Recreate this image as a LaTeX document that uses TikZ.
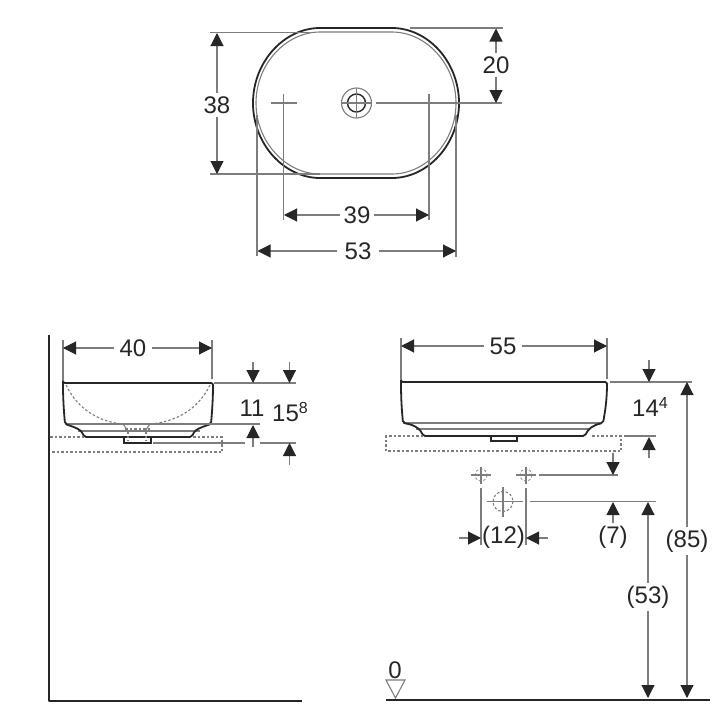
\documentclass[tikz,border=0pt]{standalone}
\usepackage{fontspec}
\setmainfont{Liberation Sans}
\usetikzlibrary{arrows.meta}
\definecolor{dimgray}{HTML}{7D7D7D}
\definecolor{inkdark}{HTML}{262626}
\tikzset{
  outline/.style={draw=inkdark,line width=1.8pt,line join=round},
  thinline/.style={draw=dimgray,line width=1.1pt},
  hidden/.style={draw=dimgray,line width=1.1pt,dash pattern=on 2.5pt off 2pt},
  dimarrow/.style={thinline,-{Triangle[length=13pt,width=13pt,color=inkdark]}},
  dimlabel/.style={text=inkdark,font=\fontsize{24}{26}\selectfont,inner sep=3pt}
}
\begin{document}
\begin{tikzpicture}[x=1pt,y=-1pt]
\useasboundingbox (0,0) rectangle (720,720);
% plan view
\draw[outline] (320,28) -- (392,28) .. controls (428,28) and (459,62) .. (459,103)
  .. controls (459,144) and (428,178) .. (392,178) -- (320,178)
  .. controls (284,178) and (253,144) .. (253,103) .. controls (253,62) and (284,28) .. (320,28);
\draw[thinline] (320,32) -- (392,32) .. controls (426,32) and (456,64) .. (456,103)
  .. controls (456,142) and (426,174) .. (392,174) -- (320,174)
  .. controls (286,174) and (256,142) .. (256,103) .. controls (256,64) and (286,32) .. (320,32);
\draw[thinline] (356.5,103) circle (15);
\draw[draw=inkdark,line width=1.4pt] (356.5,103) circle (9);
\draw[thinline] (356.5,88) -- (356.5,118) (341.5,103) -- (371.5,103);
\foreach \x in {283.5,429}
\draw[thinline] (\x,94) -- (\x,220);
\draw[thinline] (271,103) -- (297,103);
\draw[thinline] (376,103) -- (502,103);
\draw[thinline] (410,28) -- (503,28);
\draw[thinline] (210,32.5) -- (310,32.5);
\draw[thinline] (210,174) -- (320,174);
\draw[thinline] (257,115) -- (257,256);
\draw[thinline] (456,115) -- (456,257);
\node[dimlabel] (lab38) at (217,105) {38};
\draw[dimarrow] (lab38) -- (217,33);
\draw[dimarrow] (lab38) -- (217,174);
\node[dimlabel] (lab20) at (496,65) {20};
\draw[dimarrow] (lab20) -- (496,28.5);
\draw[dimarrow] (lab20) -- (496,103);
\node[dimlabel] (lab39) at (357,215) {39};
\draw[dimarrow] (lab39) -- (284,215);
\draw[dimarrow] (lab39) -- (429,215);
\node[dimlabel,inner sep=7pt] (lab53) at (358,251) {53};
\draw[dimarrow] (lab53) -- (257.5,251);
\draw[dimarrow] (lab53) -- (456,251);
% side view, wall
\draw[outline] (49,335) -- (49,701) -- (302,701);
\draw[thinline] (65,424) -- (211,424);
\draw[thinline] (78,431) -- (200,431);
\draw[outline,rounded corners=2pt] (63,383) -- (213,383) .. controls (213,400) and (212,412) .. (211,424)
  -- (205,426) .. controls (197,429) and (194,431) .. (192,437) -- (84,437)
  .. controls (82,431) and (79,429) .. (71,426) -- (65,424)
  .. controls (64,412) and (63,400) .. (63,383) -- cycle;
\draw[hidden] (66,385) .. controls (78,410) and (100,422) .. (123,424);
\draw[hidden] (210,385) .. controls (198,410) and (175,422) .. (150,424);
\draw[thinline] (123,424) -- (128,431);
\draw[thinline] (150,424) -- (145,431);
\draw[hidden] (125,429) -- (150,429);
\foreach \x in {128,146}
\draw[hidden] (\x,431) -- (\x,441);
\draw[draw=inkdark,line width=1.3pt] (124,437) -- (124,443) -- (151,443) -- (151,437);
\draw[hidden] (50,437) -- (84,437);
\draw[hidden] (193,437) -- (222,437) -- (222,452) -- (52,452);
\draw[thinline] (63,340) -- (63,380);
\draw[thinline] (212,340) -- (212,379);
\draw[thinline] (214,383) -- (296,383);
\draw[thinline] (162,424) -- (260,424);
\draw[thinline] (153,443) -- (245,443);
\draw[thinline] (260,443) -- (296,443);
\node[dimlabel,inner sep=5pt] (lab40) at (133,348) {40};
\draw[dimarrow] (lab40) -- (63,348);
\draw[dimarrow] (lab40) -- (212,348);
\foreach \x in {253,289.5}
\draw[dimarrow] (\x,362) -- (\x,383);
\draw[dimarrow] (253,447) -- (253,425);
\draw[dimarrow] (289.5,465) -- (289.5,443);
\node[dimlabel] (lab11) at (252,408) {11};
\node[dimlabel] (lab15) at (290,412) {15\raisebox{8pt}{\fontsize{16}{17}\selectfont 8}};
% front view
\draw[thinline] (403,423) -- (602,423);
\draw[thinline] (416,429) -- (590,429);
\draw[outline,rounded corners=2pt] (401,382) -- (607,382) .. controls (607,400) and (605,412) .. (603,423)
  .. controls (593,425) and (588,429) .. (585,436) -- (423,436)
  .. controls (421,430) and (416,425) .. (403,423)
  .. controls (402,412) and (401,400) .. (401,382) -- cycle;
\draw[draw=inkdark,line width=1.3pt] (491,436) -- (491,441) -- (517,441) -- (517,436);
\draw[hidden] (423,436) -- (386,436) -- (386,451) -- (621,451) -- (621,436) -- (590,436);
\draw[thinline] (401,338) -- (401,379);
\draw[thinline] (607,338) -- (607,379);
\draw[thinline] (610,382) -- (692,382);
\draw[thinline] (624,436) -- (656,436);
\draw[thinline] (539,475) -- (618,475);
\draw[thinline] (530,501.5) -- (656,501.5);
\node[dimlabel,inner sep=5pt] (lab55) at (503,346) {55};
\draw[dimarrow] (lab55) -- (401,346);
\draw[dimarrow] (lab55) -- (607,346);
\draw[dimarrow] (649,360) -- (649,382);
\draw[dimarrow] (649,458) -- (649,437);
\node[dimlabel] (lab14) at (650,407) {14\raisebox{8pt}{\fontsize{16}{17}\selectfont 4}};
\draw[dimarrow] (613,453) -- (613,475);
\draw[dimarrow] (613,523) -- (613,502);
\node[dimlabel] (lab7) at (613,537) {(7)};
\node[dimlabel] (lab53b) at (648,597) {(53)};
\draw[dimarrow] (lab53b) -- (648,502);
\draw[dimarrow] (lab53b) -- (648,698);
\node[dimlabel] (lab85) at (687,541) {(85)};
\draw[dimarrow] (lab85) -- (687,382);
\draw[dimarrow] (lab85) -- (687,698);
% connection points
\foreach \x in {481,526} {
\draw[thinline] (\x-10,475) -- (\x+10,475);
\draw[thinline] (\x,467) -- (\x,484);
\draw[hidden,line width=0.7pt] (\x,475) circle (6);
\draw[thinline] (\x,488) -- (\x,545);
}
\draw[thinline] (487,501.5) -- (523,501.5);
\draw[thinline] (503,487) -- (503,517);
\draw[hidden] (503,501.5) circle (10);
\node[dimlabel,inner sep=0pt] (lab12) at (503.5,537) {(12)};
\draw[dimarrow] (459,538) -- (481,538);
\draw[dimarrow] (548,538) -- (526,538);
% floor
\draw[outline] (386,700) -- (710,700);
\node[dimlabel] (lab0) at (395,670) {0};
\draw[draw=dimgray,line width=1.1pt] (386,680) -- (405,680) -- (395.5,698) -- cycle;
\end{tikzpicture}
\end{document}
